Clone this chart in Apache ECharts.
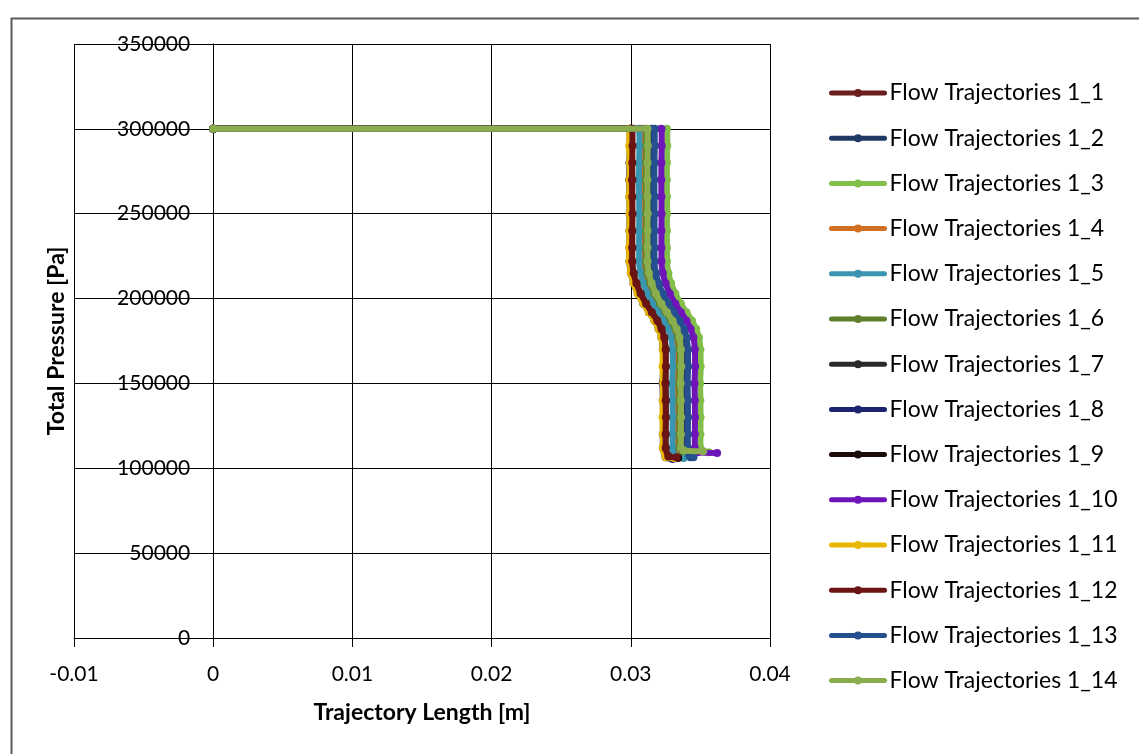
<!DOCTYPE html>
<html><head><meta charset="utf-8">
<script src="https://cdn.jsdelivr.net/npm/echarts@6/dist/echarts.min.js"></script>
<style>html,body{margin:0;padding:0;background:#fff;}#c{width:1139px;height:754px;}</style>
</head><body><div id="c"></div>
<script>
// Shared pressure levels [Pa] for the main body of each trajectory
const pressure = [300000, 300000, 290000, 280000, 270000, 260000, 250000, 240000, 230000, 222000, 215000, 209000, 203000, 197000, 192000, 187000, 182000, 177000, 170000, 160000, 150000, 140000, 130000, 120000, 112000];

const seriesNames = ["Flow Trajectories 1_1","Flow Trajectories 1_2","Flow Trajectories 1_3","Flow Trajectories 1_4","Flow Trajectories 1_5","Flow Trajectories 1_6","Flow Trajectories 1_7","Flow Trajectories 1_8","Flow Trajectories 1_9","Flow Trajectories 1_10","Flow Trajectories 1_11","Flow Trajectories 1_12","Flow Trajectories 1_13","Flow Trajectories 1_14"];
const seriesColors = ["#6B1E1E","#1F3864","#82BE4A","#D07020","#3A95B0","#5F7F2A","#2A2A2A","#1C2370","#1A0A0A","#6E14B8","#E8B800","#6A1414","#24508F","#8AAE4E"];

// Trajectory length [m] at each shared pressure level
const len1  = [0, .0300, .03002, .03000, .02998, .03001, .03000, .02999, .03001, .03002, .0301, .0303, .0306, .0310, .0314, .0318, .0321, .0323, .0324, .03243, .03238, .03241, .03239, .03242, .0324];
const len2  = [0, .0315, .03152, .03149, .0315, .03151, .0315, .03149, .0315, .0315, .0316, .0318, .0321, .0325, .0329, .0333, .0336, .0338, .0339, .03392, .03388, .0339, .03391, .0339, .0339];
const len3  = [0, .0326, .03262, .0326, .03259, .0326, .03261, .0326, .0326, .0326, .0327, .0329, .0332, .0336, .0340, .0344, .0347, .0349, .0350, .03502, .03498, .0350, .03501, .0350, .0350];
const len4  = [0, .0308, .03082, .0308, .03079, .0308, .03081, .0308, .0308, .0308, .0309, .0311, .0314, .0318, .0322, .0326, .0329, .0331, .0332, .0332, .03318, .0332, .03321, .0332, .0332];
const len5  = [0, .0306, .03062, .0306, .03059, .0306, .03061, .0306, .0306, .0306, .0307, .0309, .0312, .0316, .0320, .0324, .0327, .0329, .0330, .03302, .03298, .0330, .03301, .0330, .0330];
const len6  = [0, .0311, .03112, .0311, .03109, .0311, .03111, .0311, .0311, .0311, .0312, .0314, .0317, .0321, .0325, .0329, .0332, .0334, .0335, .03352, .03348, .0335, .03351, .0335, .0335];
const len7  = [0, .0301, .03008, .0301, .03012, .0301, .03009, .0301, .03011, .0301, .0302, .0304, .0307, .0311, .0315, .0319, .0322, .0324, .0325, .03248, .0325, .03252, .0325, .03249, .0325];
const len8  = [0, .0299, .02992, .0299, .02988, .0299, .02991, .0299, .0299, .0299, .0300, .0302, .0305, .0309, .0313, .0317, .0320, .0322, .0323, .03232, .03228, .0323, .03231, .0323, .0323];
const len9  = [0, .0300, .02998, .03002, .0300, .02999, .03001, .0300, .03002, .0300, .0301, .0303, .0306, .0310, .0314, .0318, .0321, .0323, .0324, .03238, .03242, .0324, .03238, .03241, .0324];
const len10 = [0, .0322, .03222, .0322, .03219, .0322, .03221, .0322, .0322, .0322, .0323, .0325, .0328, .0332, .0336, .0340, .0343, .0345, .0346, .03462, .03458, .0346, .03461, .0346, .0346];
const len11 = [0, .0299, .02988, .02992, .0299, .02989, .02991, .0299, .02988, .0299, .0300, .0302, .0305, .0309, .0313, .0317, .0320, .0322, .0323, .03228, .03232, .0323, .03228, .03231, .0323];
const len12 = [0, .0301, .03012, .0301, .03008, .0301, .03012, .0301, .03009, .0301, .0302, .0304, .0307, .0311, .0315, .0319, .0322, .0324, .0325, .03252, .03248, .0325, .03252, .0325, .0325];
const len13 = [0, .0317, .03172, .0317, .03169, .0317, .03171, .0317, .0317, .0317, .0318, .0320, .0323, .0327, .0331, .0335, .0338, .0340, .0341, .03412, .03408, .0341, .03411, .0341, .0341];
const len14 = [0, .0312, .03122, .0312, .03119, .0312, .03121, .0312, .0312, .0312, .0313, .0315, .0318, .0322, .0326, .0330, .0333, .0335, .0336, .03362, .03358, .0336, .03361, .0336, .0336];

// Outlet ends of each trajectory: [length, pressure]
const end1  = [[.0327,107500],[.0333,106500]];
const end2  = [[.0340,107500],[.0343,106500]];
const end3  = [[.0351,110000],[.0356,109500]];
const end4  = [[.0333,107500],[.0337,106500]];
const end5  = [[.0332,107000],[.0338,106000]];
const end6  = [[.0337,110000],[.0346,109500]];
const end7  = [[.0327,107000],[.0332,106000]];
const end8  = [[.0325,106500],[.0330,105500]];
const end9  = [[.0326,106500],[.0334,106000]];
const end10 = [[.0348,109500],[.0362,109000]];
const end11 = [[.0325,106500],[.0331,106000]];
const end12 = [[.0327,107000],[.0333,106500]];
const end13 = [[.0342,107500],[.0345,106500]];
const end14 = [[.0338,110500],[.0352,110000]];

const lengths = [len1,len2,len3,len4,len5,len6,len7,len8,len9,len10,len11,len12,len13,len14];
const ends = [end1,end2,end3,end4,end5,end6,end7,end8,end9,end10,end11,end12,end13,end14];

const xTicks = {min: -0.01, max: 0.04, interval: 0.01};
const yTicks = {min: 0, max: 350000, interval: 50000};

const FONT = 'Lato';
const series = seriesNames.map((name, i) => ({
  name: name,
  type: 'line',
  data: lengths[i].map((x, k) => [x, pressure[k]]).concat(ends[i]),
  symbol: 'circle',
  symbolSize: 8,
  showSymbol: true,
  smooth: 0.2,
  color: seriesColors[i],
  lineStyle: {width: 6, color: seriesColors[i], cap: 'round', join: 'round'},
  itemStyle: {color: seriesColors[i]},
  emphasis: {disabled: true},
  animation: false,
  z: 2 + i
}));

const chart = echarts.init(document.getElementById('c'), null, {renderer: 'canvas'});
chart.setOption({
  backgroundColor: '#ffffff',
  animation: false,
  textStyle: {fontFamily: FONT},
  graphic: [{
    type: 'rect', left: 9, top: 16, shape: {width: 1300, height: 900},
    style: {fill: 'none', stroke: '#5a5a5a', lineWidth: 2}, silent: true, z: -1
  }],
  grid: {left: 74, top: 44, right: 369, bottom: 116, containLabel: false, outerBoundsMode: 'none'},
  xAxis: {
    type: 'value', min: xTicks.min, max: xTicks.max, interval: xTicks.interval,
    name: 'Trajectory Length [m]', nameLocation: 'middle', nameGap: 63,
    nameTextStyle: {fontFamily: FONT, fontWeight: 'bold', fontSize: 23, color: '#000'},
    axisLine: {onZero: false, lineStyle: {color: '#000', width: 1}},
    axisTick: {show: true, length: 9, lineStyle: {color: '#000'}},
    axisLabel: {color: '#000', fontSize: 21, fontFamily: FONT, margin: 26, formatter: v => String(Math.round(v * 1000) / 1000)},
    splitLine: {show: true, lineStyle: {color: '#000', width: 1}}
  },
  yAxis: {
    type: 'value', min: yTicks.min, max: yTicks.max, interval: yTicks.interval,
    offset: -139.2,
    name: 'Total Pressure [Pa]', nameLocation: 'middle', nameGap: 145, nameRotate: 90,
    nameTextStyle: {fontFamily: FONT, fontWeight: 'bold', fontSize: 23, color: '#000'},
    axisLine: {onZero: false, lineStyle: {color: '#000', width: 1}},
    axisTick: {show: true, length: 5, lineStyle: {color: '#000'}},
    axisLabel: {color: '#000', fontSize: 21, fontFamily: FONT, margin: 23, formatter: v => String(v)},
    splitLine: {show: true, lineStyle: {color: '#000', width: 1}}
  },
  legend: {
    orient: 'vertical', left: 829, top: 81, padding: 0,
    itemWidth: 53, itemHeight: 10, itemGap: 21.2,
    textStyle: {color: '#000', fontSize: 23, fontFamily: FONT, lineHeight: 24},
    lineStyle: {width: 5, cap: 'round'},
    data: seriesNames
  },
  series: series
});
</script></body></html>
